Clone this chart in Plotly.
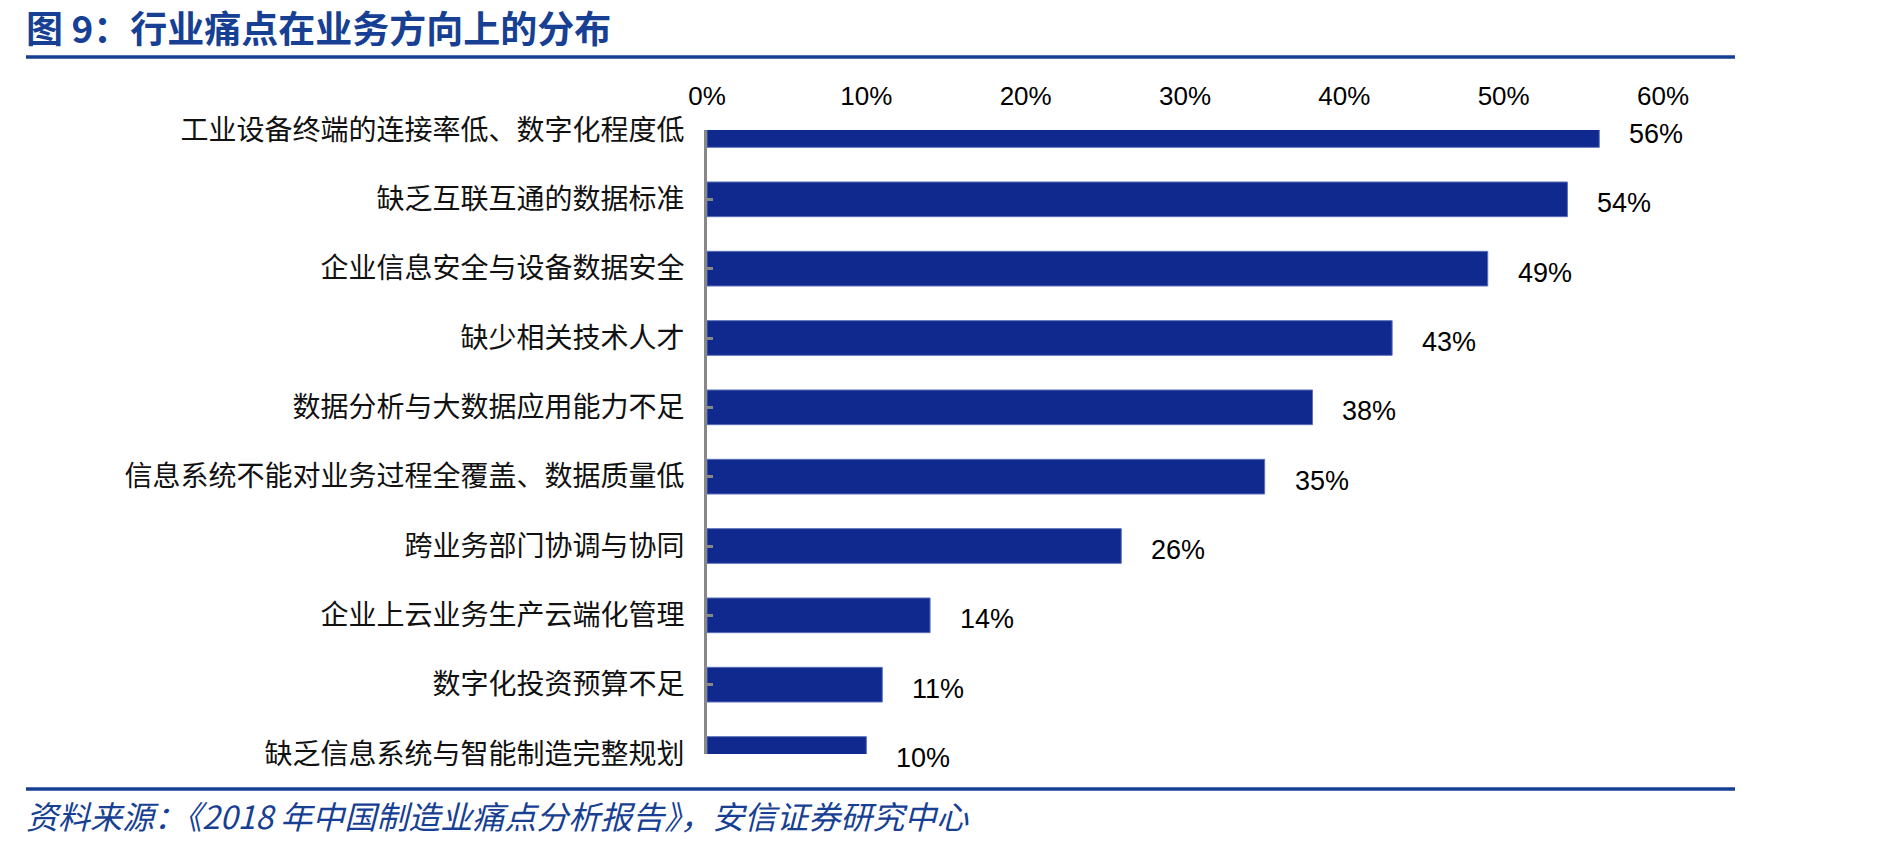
import plotly.graph_objects as go

categories = [
    "工业设备终端的连接率低、数字化程度低",
    "缺乏互联互通的数据标准",
    "企业信息安全与设备数据安全",
    "缺少相关技术人才",
    "数据分析与大数据应用能力不足",
    "信息系统不能对业务过程全覆盖、数据质量低",
    "跨业务部门协调与协同",
    "企业上云业务生产云端化管理",
    "数字化投资预算不足",
    "缺乏信息系统与智能制造完整规划",
]
values = [0.56, 0.54, 0.49, 0.43, 0.38, 0.35, 0.26, 0.14, 0.11, 0.10]
x_ticks = [0, 0.1, 0.2, 0.3, 0.4, 0.5, 0.6]
x_tick_labels = ["0%", "10%", "20%", "30%", "40%", "50%", "60%"]
title_text = "图 9：行业痛点在业务方向上的分布"
source_text = "资料来源：《2018 年中国制造业痛点分析报告》，安信证券研究中心"

W, H = 1889, 846
L, R, T, B = 707, 1663, 130, 754
BLUE = "#10298f"
DARK = "#173f93"


def px_x(p):
    return (p - L) / (R - L)


def px_y(p):
    return (B - p) / (B - T)


fig = go.Figure()
fig.add_trace(go.Bar(
    x=values, y=categories, orientation="h",
    marker=dict(color=BLUE, line=dict(color="#5b6fb8", width=1)),
    width=0.5, showlegend=False, hoverinfo="skip",
))

for c, v in zip(categories, values):
    fig.add_annotation(
        x=v, y=c, xref="x", yref="y", text=f"{round(v*100)}%",
        showarrow=False, xanchor="left", yanchor="middle", xshift=28, yshift=-4,
        font=dict(family="Liberation Sans, Arial", size=27, color="#000"),
    )

# title, rules and source
fig.add_annotation(
    x=px_x(24), y=px_y(27), xref="paper", yref="paper", text=f"<b>{title_text}</b>",
    showarrow=False, xanchor="left", yanchor="middle",
    font=dict(family="Noto Sans CJK SC", size=37, color=DARK),
)
fig.add_annotation(
    x=px_x(24), y=px_y(815), xref="paper", yref="paper", text=f"<i>{source_text}</i>",
    showarrow=False, xanchor="left", yanchor="middle",
    font=dict(family="Noto Sans CJK SC", size=32, color=DARK),
)
for yy in (57, 789):
    fig.add_shape(type="line", xref="paper", yref="paper",
                  x0=px_x(26), x1=px_x(1735), y0=px_y(yy), y1=px_y(yy),
                  line=dict(color=DARK, width=3.5))

fig.update_layout(
    width=W, height=H,
    margin=dict(l=L, r=W - R, t=T, b=H - B, pad=0),
    paper_bgcolor="white", plot_bgcolor="white",
    bargap=0.5,
    xaxis=dict(
        side="top", range=[0, 0.6], tickvals=x_ticks, ticktext=x_tick_labels,
        showgrid=False, zeroline=False, showline=False, ticks="",
        tickfont=dict(family="Liberation Sans, Arial", size=26, color="#000"),
        ticklabelstandoff=19,
    ),
    yaxis=dict(
        type="category", categoryorder="array", categoryarray=categories,
        range=[9, 0], showgrid=False, zeroline=False,
        showline=True, linecolor="#888888", linewidth=3,
        ticks="inside", ticklen=6, tickwidth=3, tickcolor="#888888",
        tickfont=dict(family="Noto Sans CJK SC", size=28, color="#111"),
        ticklabelstandoff=14,
    ),
)

fig.write_html("out.html")
